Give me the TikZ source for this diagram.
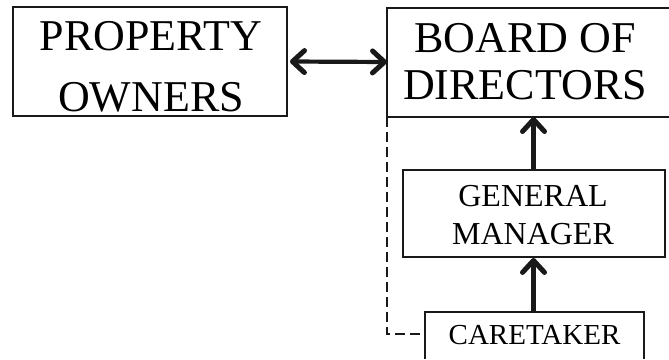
\documentclass[tikz,border=0pt]{standalone}
\usepackage{fontspec}
\setmainfont{Liberation Serif}
\usetikzlibrary{arrows.meta}
\begin{document}
\begin{tikzpicture}[x=1pt,y=-1pt,
  boxline/.style={line width=1.9pt,draw=black!90},
  bigtxt/.style={align=center,inner sep=0pt},
  tip/.tip={Straight Barb[length=12pt,width=22pt,line width=5pt,round]},
  conn/.style={line width=4.2pt,draw=black!90,-tip},
  dconn/.style={line width=4.2pt,draw=black!90,tip-tip},
  dashline/.style={line width=2pt,draw=black!90,dash pattern=on 10pt off 5pt}
]
\useasboundingbox (0,0) rectangle (669,359);
% Property owners
\node[boxline,draw,minimum width=274pt,minimum height=109pt,inner sep=0pt] (po) at (150,61.5) {};
\node[bigtxt,font=\fontsize{44}{61}\selectfont] (pot) at (151,67) {PROPERTY\\OWNERS};
% Board of directors (box runs off the right edge)
\coordinate (btl) at (387,8);
\coordinate (bbl) at (387,117);
\draw[boxline] (669,8) -- (btl) -- (bbl) -- (669,117);
\node[bigtxt,font=\fontsize{44}{47}\selectfont] (bod) at (525,62) {BOARD OF\\DIRECTORS};
\coordinate (bodl) at (387,62);
\coordinate (bodb) at (533.5,117);
% General manager
\node[boxline,draw,minimum width=262pt,minimum height=87pt,inner sep=0pt] (gm) at (534,213.5) {};
\node[bigtxt,font=\fontsize{32}{38}\selectfont] (gmt) at (533,215) {GENERAL\\MANAGER};
% Caretaker (box runs off the bottom edge)
\coordinate (ctl) at (425,312);
\coordinate (ctr) at (644,312);
\draw[boxline] (425,359) -- (ctl) -- (ctr) -- (644,359);
\node[bigtxt,font=\fontsize{29}{34}\selectfont] (ct) at (534.5,335) {CARETAKER};
\coordinate (ctt) at (533.5,312);
\coordinate (ctleft) at (425,334);
% connectors
\draw[dconn] (po.east) ++(2,0) coordinate (poe) (poe) -- (bodl);
\draw[conn] (gm.north -| bodb) -- (bodb);
\draw[conn] (ctt) -- (gm.south -| ctt);
\draw[dashline] (bbl) |- (ctleft);
\end{tikzpicture}
\end{document}
